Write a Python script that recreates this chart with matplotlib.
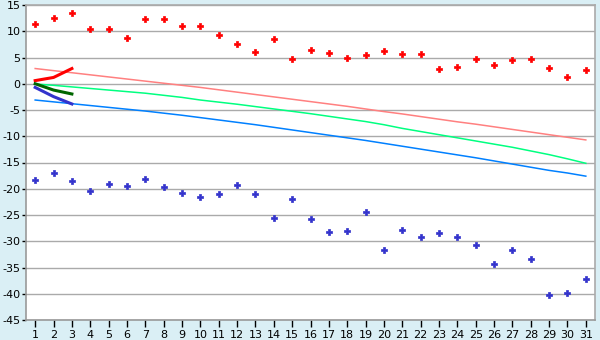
import numpy as np
import matplotlib
matplotlib.use("Agg")
from matplotlib import pyplot as plt

plt.rcParams["axes.unicode_minus"] = False

days = list(range(1, 32))

# scatter series
red_pts = [11.3, 12.45, 13.4, 10.4, 10.4, 8.65, 12.3, 12.3, 11.0, 11.0,
           9.3, 7.6, 6.0, 8.45, 4.65, 6.35, 5.8, 4.85, 5.4, 6.2,
           5.65, 5.65, 2.75, 3.1, 4.65, 3.5, 4.45, 4.65, 2.95, 1.2, 2.55]
blue_pts = [-18.4, -17.05, -18.6, -20.5, -19.1, -19.4, -18.2, -19.7, -20.9, -21.6,
            -21.05, -19.35, -21.05, -25.6, -22.0, -25.8, -28.3, -28.1, -24.5, -31.7,
            -27.9, -29.1, -28.5, -29.25, -30.8, -34.4, -31.7, -33.45, -40.3, -39.9, -37.25]

# trend lines
pink_line = [2.9, 2.5, 2.1, 1.7, 1.3, 0.9, 0.5, 0.1, -0.3, -0.7,
             -1.15, -1.6, -2.05, -2.5, -2.95, -3.4, -3.85, -4.3, -4.8, -5.3,
             -5.75, -6.25, -6.75, -7.25, -7.7, -8.2, -8.7, -9.2, -9.7, -10.2, -10.7]
green_line = [-0.05, -0.3, -0.6, -0.9, -1.2, -1.5, -1.8, -2.2, -2.6, -3.1,
              -3.5, -3.9, -4.35, -4.8, -5.25, -5.7, -6.2, -6.7, -7.2, -7.8,
              -8.5, -9.1, -9.7, -10.3, -10.9, -11.5, -12.1, -12.8, -13.5, -14.3, -15.15]
blue_line = [-3.1, -3.45, -3.8, -4.15, -4.5, -4.85, -5.2, -5.6, -6.0, -6.45,
             -6.9, -7.35, -7.8, -8.3, -8.8, -9.3, -9.8, -10.3, -10.8, -11.35,
             -11.9, -12.45, -13.0, -13.55, -14.1, -14.7, -15.3, -15.9, -16.5, -17.0, -17.6]

# short thick lines, days 1-3
short_days = [1, 2, 3]
short_red = [0.6, 1.2, 2.9]
short_green = [0.0, -1.2, -1.95]
short_purple = [-0.7, -2.45, -3.85]

bg = "#daeff5"
fig = plt.figure(figsize=(6, 3.4), dpi=100, facecolor=bg)
ax = fig.add_axes([26/600, 20/340, 569/600, 315/340])
ax.set_facecolor("white")

ax.plot(days, pink_line, color="#ff8080", lw=1.1, zorder=3)
ax.plot(days, green_line, color="#00ff80", lw=1.1, zorder=3)
ax.plot(days, blue_line, color="#0080ff", lw=1.1, zorder=3)

ax.plot(short_days, short_red, color="#ff0000", lw=2.2, zorder=4)
ax.plot(short_days, short_green, color="#006600", lw=2.2, zorder=4)
ax.plot(short_days, short_purple, color="#3333cc", lw=2.2, zorder=4)

ax.scatter(days, red_pts, marker="P", s=20, color="#ff0000",
           edgecolor="#ff0000", lw=0.5, zorder=5)
ax.scatter(days, blue_pts, marker="P", s=17, color="#3333cc",
           edgecolor="#3333cc", lw=0.5, zorder=5)

ax.set_xlim(0.5, 31.5)
ax.set_ylim(-45, 15)
ax.set_xticks(days)
ax.set_yticks(range(-45, 16, 5))
ax.yaxis.grid(True, color="#aaaaaa", lw=1)
ax.set_axisbelow(True)

for s in ax.spines.values():
    s.set_color("#aaaaaa")
    s.set_linewidth(1.2)
ax.spines["left"].set_color("#999999")
ax.spines["bottom"].set_color("#999999")

ax.tick_params(axis="x", length=5, width=1, color="black", labelsize=8, pad=2)
ax.tick_params(axis="y", length=3, width=1, color="black", labelsize=8, pad=1)

fig.savefig("out.png", dpi=100, facecolor=bg)
